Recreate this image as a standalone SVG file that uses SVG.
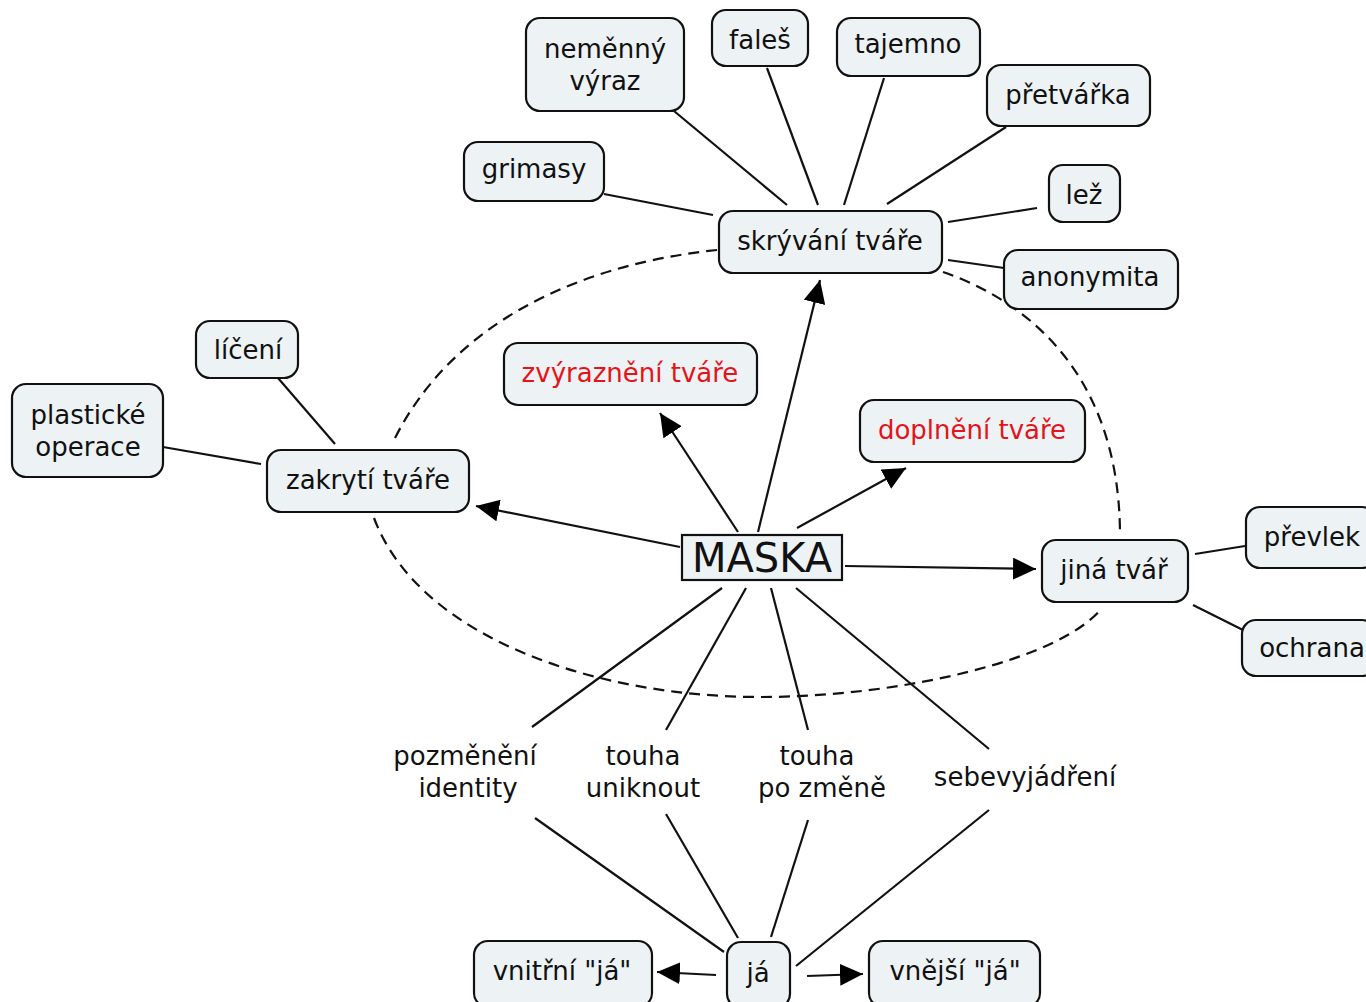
<svg xmlns="http://www.w3.org/2000/svg" width="1366" height="1002" viewBox="0 0 1366 1002">
<defs>
<marker id="ah" markerUnits="userSpaceOnUse" markerWidth="26" markerHeight="22" refX="23" refY="11" orient="auto">
<path d="M0,0 L23,11 L0,22 Z" fill="#000"/>
</marker>
<style>
.n rect{fill:#edf2f4;stroke:#111;stroke-width:2.2}
text{font-family:"DejaVu Sans","Verdana",sans-serif;font-size:26px;fill:#111;text-anchor:middle}
.red text{fill:#e3141b}
.c line,.c path{stroke:#111;stroke-width:2.2;fill:none}
.c .d{stroke-dasharray:11,7}
.c .a{marker-end:url(#ah)}
</style>
</defs>
<rect width="1366" height="1002" fill="#fff"/>
<g id="connectors" class="c">
<path class="d" d="M717,250 C600,262 460,310 395,438"/>
<path class="d" d="M374,518 C420,640 600,697 760,697 C900,697 1060,660 1102,608"/>
<path class="d" d="M943,272 C1010,295 1120,360 1120,536"/>
<line x1="674" y1="111" x2="787" y2="205"/>
<line x1="767" y1="68" x2="818" y2="205"/>
<line x1="884" y1="78" x2="844" y2="205"/>
<line x1="1006" y1="127" x2="887" y2="204"/>
<line x1="604" y1="194" x2="713" y2="215"/>
<line x1="1037" y1="208" x2="948" y2="222"/>
<line x1="1004" y1="268" x2="948" y2="260"/>
<line x1="278" y1="378" x2="335" y2="444"/>
<line x1="163" y1="447" x2="261" y2="464"/>
<line class="a" x1="758" y1="532" x2="820" y2="280"/>
<line class="a" x1="738" y1="532" x2="660" y2="413"/>
<line class="a" x1="797" y1="528" x2="906" y2="468"/>
<line class="a" x1="680" y1="547" x2="476" y2="506"/>
<line class="a" x1="845" y1="566" x2="1036" y2="569"/>
<line x1="722" y1="588" x2="532" y2="727"/>
<line x1="746" y1="588" x2="666" y2="730"/>
<line x1="771" y1="588" x2="808" y2="730"/>
<line x1="796" y1="588" x2="989" y2="749"/>
<line x1="535" y1="818" x2="724" y2="952"/>
<line x1="666" y1="814" x2="738" y2="938"/>
<line x1="808" y1="820" x2="771" y2="937"/>
<line x1="989" y1="810" x2="796" y2="966"/>
<line class="a" x1="716" y1="975" x2="657" y2="972"/>
<line class="a" x1="807" y1="976" x2="863" y2="974"/>
<line x1="1195" y1="554" x2="1245" y2="546"/>
<line x1="1193" y1="605" x2="1243" y2="630"/>
</g>
<g id="nemenny" class="n"><rect x="526" y="18" width="158" height="93" rx="14"/><text x="605" y="58">neměnný</text><text x="605" y="90">výraz</text></g>
<g id="fales" class="n"><rect x="712" y="10" width="96" height="56" rx="14"/><text x="760" y="49">faleš</text></g>
<g id="tajemno" class="n"><rect x="837" y="18" width="143" height="58" rx="14"/><text x="908" y="53">tajemno</text></g>
<g id="pretvarka" class="n"><rect x="987" y="65" width="163" height="61" rx="14"/><text x="1068" y="104">přetvářka</text></g>
<g id="grimasy" class="n"><rect x="464" y="142" width="140" height="59" rx="14"/><text x="534" y="178">grimasy</text></g>
<g id="lez" class="n"><rect x="1049" y="165" width="71" height="57" rx="14"/><text x="1084" y="204">lež</text></g>
<g id="skryvani" class="n"><rect x="719" y="211" width="223" height="62" rx="14"/><text x="830" y="250">skrývání tváře</text></g>
<g id="anonymita" class="n"><rect x="1004" y="250" width="174" height="59" rx="14"/><text x="1090" y="286">anonymita</text></g>
<g id="liceni" class="n"><rect x="196" y="321" width="102" height="57" rx="14"/><text x="248" y="359">líčení</text></g>
<g id="plasticke" class="n"><rect x="12" y="384" width="151" height="93" rx="14"/><text x="88" y="424">plastické</text><text x="88" y="456">operace</text></g>
<g id="zakryti" class="n"><rect x="267" y="450" width="202" height="62" rx="14"/><text x="368" y="489">zakrytí tváře</text></g>
<g id="zvyrazneni" class="n red"><rect x="504" y="343" width="253" height="62" rx="14"/><text x="630" y="382">zvýraznění tváře</text></g>
<g id="doplneni" class="n red"><rect x="860" y="400" width="225" height="62" rx="14"/><text x="972" y="439">doplnění tváře</text></g>
<g id="maska" class="n"><rect x="682" y="535" width="160" height="45"/><text x="762" y="572" style="font-size:40px">MASKA</text></g>
<g id="jina" class="n"><rect x="1042" y="540" width="146" height="62" rx="14"/><text x="1114" y="579">jiná tvář</text></g>
<g id="prevlek" class="n"><rect x="1246" y="507" width="130" height="61" rx="14"/><text x="1312" y="546">převlek</text></g>
<g id="ochrana" class="n"><rect x="1242" y="620" width="134" height="56" rx="14"/><text x="1312" y="657">ochrana</text></g>
<g id="pozmeneni"><text x="465" y="765">pozměnění</text><text x="468" y="797">identity</text></g>
<g id="uniknout"><text x="643" y="765">touha</text><text x="643" y="797">uniknout</text></g>
<g id="zmene"><text x="817" y="765">touha</text><text x="822" y="797">po změně</text></g>
<g id="sebevyjadreni"><text x="1025" y="786">sebevyjádření</text></g>
<g id="ja" class="n"><rect x="727" y="942" width="63" height="66" rx="14"/><text x="758" y="982">já</text></g>
<g id="vnitrni" class="n"><rect x="474" y="941" width="178" height="66" rx="14"/><text x="562" y="980">vnitřní "já"</text></g>
<g id="vnejsi" class="n"><rect x="869" y="941" width="171" height="66" rx="14"/><text x="955" y="980">vnější "já"</text></g>
</svg>
